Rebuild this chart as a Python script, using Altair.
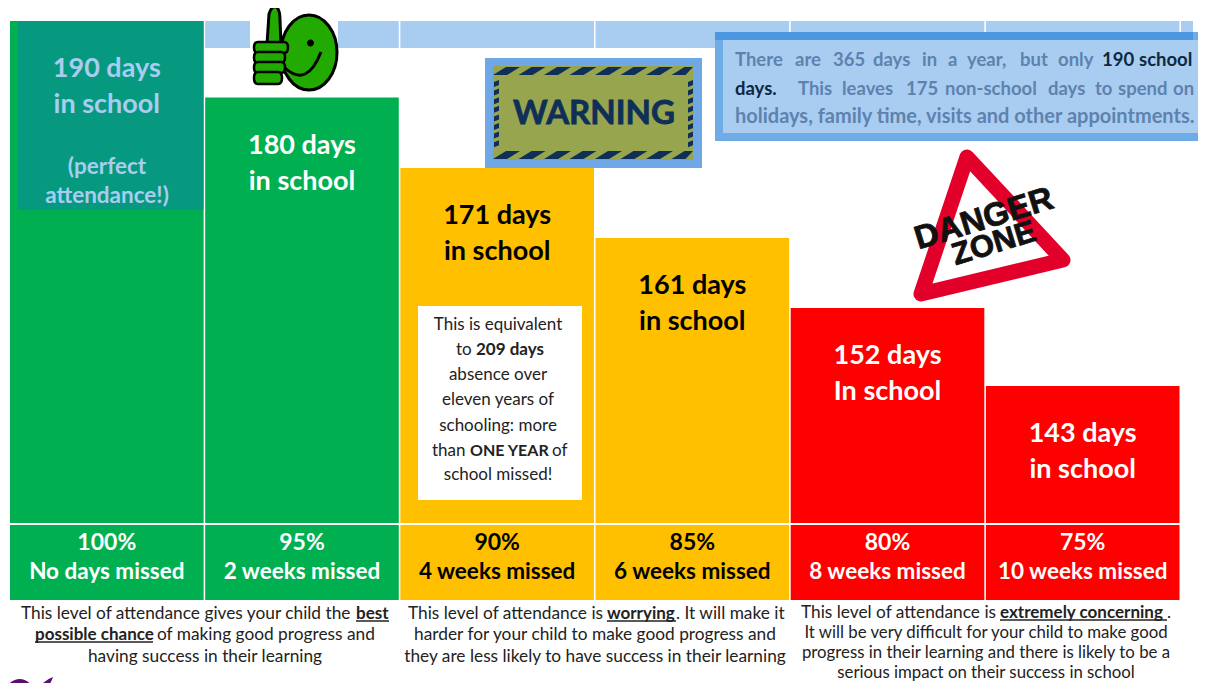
import altair as alt
import pandas as pd

categories = ["100%", "95%", "90%", "85%", "80%", "75%"]
days = [190, 180, 171, 161, 152, 143]
day_labels = ["190 days", "180 days", "171 days", "161 days", "152 days", "143 days"]
school_labels = ["in school", "in school", "in school", "in school", "In school", "in school"]
missed = ["No days missed", "2 weeks missed", "4 weeks missed", "6 weeks missed", "8 weeks missed", "10 weeks missed"]
status = ["good", "good", "warn", "warn", "bad", "bad"]

GREEN, AMBER, RED = "#00B050", "#FFC000", "#FF0000"
PALE = "#A9CDF0"
fills = {"good": GREEN, "warn": AMBER, "bad": RED}
inks = {"good": "#FFFFFF", "warn": "#000000", "bad": "#FFFFFF"}

df = pd.DataFrame({
    "cat": categories, "days": days, "day_label": day_labels,
    "school": school_labels, "missed": missed,
    "fill": [fills[s] for s in status],
    "ink": [inks[s] for s in status],
})
df["bar_ink"] = df["ink"]
df.loc[0, "bar_ink"] = PALE

W, H = 1190, 675
OFF = 8
one = alt.Data(values=[{}])

xs = alt.Scale(domain=categories, range=[2, 1171.5], paddingInner=0.008, paddingOuter=0)
ys = alt.Scale(domain=[143, 152, 161, 171, 180, 190], range=[378, 300, 230, 160, 89.5, 13])
X = alt.X("cat:N", scale=xs, axis=None, sort=categories)
Y = alt.Y("days:Q", scale=ys, axis=None)

FONT = "Lato"
layers = []


def rect(x0, y0, x1, y1, color):
    layers.append(alt.Chart(one).mark_rect(color=color, opacity=1).encode(
        x=alt.value(x0 - OFF), x2=alt.value(x1 - OFF),
        y=alt.value(y0 - OFF), y2=alt.value(y1 - OFF)))


def T(s, x, y, size=17, color="#222222", bold=False, align="left", angle=0, font=FONT, heavy=0):
    kw = {"angle": angle} if angle else {}
    if heavy:
        kw.update(stroke=color, strokeWidth=heavy)
    layers.append(alt.Chart(one).mark_text(
        text=s, font=font, fontSize=size, fontWeight="bold" if bold else "normal",
        color=color, align=align, baseline="middle", **kw
    ).encode(x=alt.value(x - OFF), y=alt.value(y - OFF + 1)))


def U(x0, x1, y, color="#222222"):
    layers.append(alt.Chart(one).mark_rule(color=color, strokeWidth=1.3).encode(
        x=alt.value(x0 - OFF), x2=alt.value(x1 - OFF), y=alt.value(y - OFF)))


def P(path, fill=None, stroke=None, sw=0.0):
    # size 4 makes one path unit one pixel, so a path can be written in page pixels
    kw = {"filled": fill is not None, "opacity": 1}
    if fill is not None:
        kw["fill"] = fill
    if stroke is not None:
        kw["stroke"] = stroke
        kw["strokeWidth"] = sw
        kw["strokeJoin"] = "round"
    layers.append(alt.Chart(one).mark_point(shape=path, size=4, **kw).encode(
        x=alt.value(-OFF), y=alt.value(-OFF)))


# --- pale strip along the 190-day line
base = alt.Chart(df)
layers.append(base.transform_filter("datum.days < 190").transform_calculate(top="190").mark_rect(
    color=PALE, opacity=1).encode(
    x=X, y=alt.Y("top:Q", scale=ys, axis=None), y2=alt.value(40)))
rect(1181, 21, 1193, 48, PALE)

# --- columns and bottom tiles
layers.append(base.mark_rect(opacity=1).encode(
    x=X, y=Y, y2=alt.value(515), color=alt.Color("fill:N", scale=None)))
layers.append(base.mark_rect(opacity=1).encode(
    x=X, y=alt.value(517), y2=alt.value(592), color=alt.Color("fill:N", scale=None)))

# --- teal overlay on the first column
rect(18, 21, 203.5, 210, "#069980")

# --- column labels
for field, dy in (("day_label", 48), ("school", 84)):
    layers.append(base.mark_text(font=FONT, fontSize=27, fontWeight="bold", baseline="middle", dy=dy).encode(
        x=X, y=Y, text=f"{field}:N", color=alt.Color("bar_ink:N", scale=None)))
T("(perfect", 107, 166, 22.5, PALE, True, "center")
T("attendance!)", 107, 195, 22.5, PALE, True, "center")
layers.append(base.mark_text(font=FONT, fontSize=23, fontWeight="bold", baseline="middle").encode(
    x=X, y=alt.value(535), text="cat:N", color=alt.Color("ink:N", scale=None)))
layers.append(base.mark_text(font=FONT, fontSize=22.5, fontWeight="bold", baseline="middle").encode(
    x=X, y=alt.value(564), text="missed:N", color=alt.Color("ink:N", scale=None)))

# --- white note in the 90% column
rect(418, 306, 582, 500, "#FFFFFF")
for s, y in (("This is equivalent", 324), ("absence over", 374), ("eleven years of", 399),
             ("schooling: more", 425), ("school missed!", 474)):
    T(s, 498, y, 17, "#222222", False, "center")
T("to", 456, 349)
T("209 days", 476, 349, 17, "#222222", True)
T("than", 432, 450)
T("ONE YEAR", 470, 450, 16, "#222222", True)
T("of", 552, 450)

# --- thumbs-up smiley
rect(250, 8, 338, 92, "#FFFFFF")
SMILE = "#22AA00"
P("M281,52.5 A28,37.5 0 1 1 337,52.5 A28,37.5 0 1 1 281,52.5 Z", SMILE, "#000000", 3)
P("M267,44 L269,14 Q272,5 276,7 Q280,9 280,20 L281,44 Z", SMILE, "#000000", 3)


def finger(y0, y1, x0=253, x1=287):
    m = (y0 + y1) / 2
    return (f"M{x0+4},{y0} L{x1-4},{y0} Q{x1},{y0} {x1},{m} Q{x1},{y1} {x1-4},{y1} "
            f"L{x0+4},{y1} Q{x0},{y1} {x0},{m} Q{x0},{y0} {x0+4},{y0} Z")


for y0, y1, x1 in ((42, 53, 288), (52, 63, 285), (62, 73, 285), (72, 84, 282)):
    P(finger(y0, y1, 254, x1), SMILE, "#000000", 2.5)
P("M307,43 A3.5,3.5 0 1 1 314,43 A3.5,3.5 0 1 1 307,43 Z", "#000000")
P("M285,68 Q307,88 321,52", None, "#000000", 3)

# --- warning sign
NAVY = "#0F2F58"
rect(485, 58, 702, 168, "#6FA8E4")
rect(493, 66, 693, 160, "#96A54E")
stripes = ""
for y0, y1 in ((67, 75), (151, 159)):
    for k in range(8):
        a = 493 + k * 25.5
        stripes += (f"M{a:.1f},{y1} L{min(a+13,693):.1f},{y0} L{min(a+27,693):.1f},{y0} "
                    f"L{min(a+14,693):.1f},{y1} Z ")
for xa, xb in ((494, 499), (688, 693)):
    for k in range(8):
        t = 82 + k * 8.6
        stripes += f"M{xa},{t:.1f} L{xb},{t-2:.1f} L{xb},{t+3:.1f} L{xa},{t+5:.1f} Z "
P(stripes, NAVY)
T("WARNING", 594, 113, 33, NAVY, True, "center", heavy=0.8)

# --- info box
rect(715, 32, 1203, 141, "#6FABE6")
rect(715, 32, 1193, 40, "#4D96E0")
rect(723, 40, 1203, 133, PALE)
GREY = "#5E82AE"
DARK = "#0E2841"
line1 = [("There", 735), ("are", 795), ("365", 833), ("days", 873), ("in", 922), ("a", 948),
         ("year,", 967), ("but", 1020), ("only", 1058)]
for s, x in line1:
    T(s, x, 59, 18.5, GREY, True)
T("190", 1102, 59, 18.5, DARK, True)
T("school", 1139, 59, 18.5, DARK, True)
T("days.", 735, 88, 18.5, DARK, True)
line2 = [("This", 798), ("leaves", 842), ("175", 906), ("non-school", 945), ("days", 1048),
         ("to", 1095), ("spend", 1118), ("on", 1173)]
for s, x in line2:
    T(s, x, 88, 18.5, GREY, True)
T("holidays, family time, visits and other appointments.", 735, 116, 20, GREY, True)

# --- danger zone sign
P("M967,157 L921,294 L1063,260 Z", "#FFFFFF", "#E2002B", 15)
T("DANGER", 984, 218, 33, "#111111", True, "center", 343, "Liberation Sans", 0.8)
T("ZONE", 994, 243, 31, "#111111", True, "center", 343, "Liberation Sans", 0.8)

# --- footers
FS = 17.3
FB = 17
FC = 16.8
T("This level of attendance gives your child the", 21, 613, FS)
T("best", 356, 613, FB, "#222222", True)
U(356, 389, 621)
T("possible chance", 35, 634, FB, "#222222", True)
U(35, 153, 642)
T("of making good progress and", 157, 634, FS)
T("having success in their learning", 205, 656, FS, "#222222", False, "center")

T("This level of attendance is", 408, 613, FS)
T("worrying", 607, 613, FB, "#222222", True)
U(607, 676, 621)
T(". It will make it", 676, 613, FS)
T("harder for your child to make good progress and", 595, 634, FS, "#222222", False, "center")
T("they are less likely to have success in their learning", 595, 656, FS, "#222222", False, "center")

T("This level of attendance is", 801, 612, FS)
T("extremely concerning", 1000, 612, FB, "#222222", True)
U(1000, 1167, 620)
T(".", 1167, 612, FS)
T("It will be very difficult for your child to make good", 986, 631.5, FC, "#222222", False, "center")
T("progress in their learning and there is likely to be a", 986, 651.5, FC, "#222222", False, "center")
T("serious impact on their success in school", 986, 672, FC, "#222222", False, "center")

# --- logo fragment at the bottom edge
P("M3,690 Q20,668 36,690 L30,690 Q20,680 10,690 Z M37,690 Q44,680 53,677 Q50,686 44,690 Z", "#5B0F70")

chart = alt.layer(*layers).properties(
    width=W, height=H, padding=0, autosize=alt.AutoSizeParams(type="none"),
    background="#FFFFFF",
).configure_view(strokeWidth=0)

chart.save("out.html", embed_options={"renderer": "svg", "actions": False})
